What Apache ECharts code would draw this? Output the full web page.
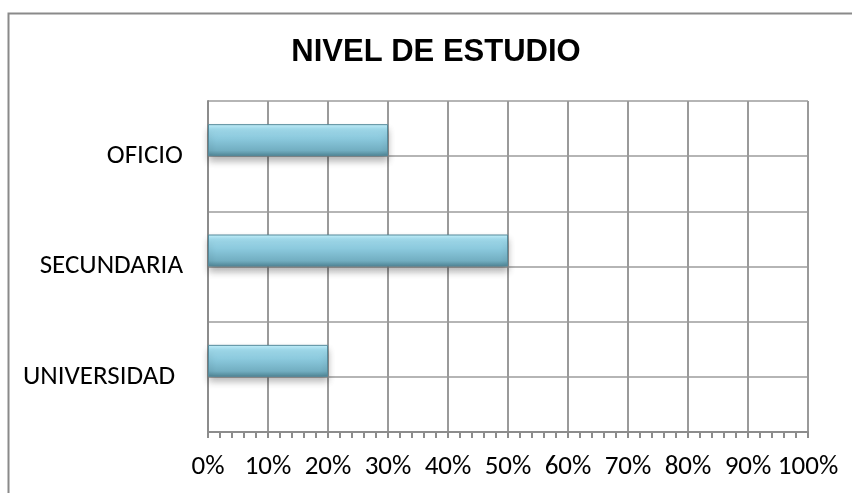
<!DOCTYPE html>
<html>
<head>
<meta charset="utf-8">
<script src="https://cdn.jsdelivr.net/npm/echarts@6/dist/echarts.min.js"></script>
<style>html,body{margin:0;padding:0;background:#fff}#c{width:852px;height:493px}</style>
</head>
<body>
<div id="c"></div>
<script>
const categories = ['UNIVERSIDAD', 'SECUNDARIA', 'OFICIO'];
const values = [20, 50, 30];
const tickLabels = ['0%', '10%', '20%', '30%', '40%', '50%', '60%', '70%', '80%', '90%', '100%'];
const titleText = 'NIVEL DE ESTUDIO';

const labelPad = [18, 10, 10];
const font = 'Carlito, Lato, "Liberation Sans", sans-serif';

const chart = echarts.init(document.getElementById('c'), null, {renderer: 'canvas'});
chart.setOption({
  animation: false,
  backgroundColor: '#fff',
  graphic: [{
    type: 'rect', left: 6, top: 11, shape: {width: 900, height: 600},
    style: {fill: 'none', stroke: '#8a8a8a', lineWidth: 2}, z: -1
  }],
  title: {
    text: titleText, left: 431, top: 32, textAlign: 'center',
    textStyle: {fontFamily: '"Liberation Sans", Arial, sans-serif', fontWeight: 'bold', fontSize: 31, color: '#000'}
  },
  grid: {left: 208, right: 44, top: 101, bottom: 61, containLabel: false},
  xAxis: {
    type: 'value', min: 0, max: 100, interval: 10,
    axisLine: {show: true, lineStyle: {color: '#8c8c8c', width: 2}},
    axisTick: {show: true, length: 6, inside: false, lineStyle: {color: '#8c8c8c', width: 2}},
    minorTick: {show: true, splitNumber: 5, length: 6, lineStyle: {color: '#8c8c8c', width: 2}},
    splitLine: {show: true, lineStyle: {color: '#9a9a9a', width: 2}},
    axisLabel: {
      margin: 22, fontFamily: font, fontSize: 27, color: '#000',
      formatter: v => tickLabels[Math.round(v / 10)]
    }
  },
  yAxis: [{
    type: 'category',
    data: categories.map((c, i) => ({value: c, textStyle: {padding: [0, labelPad[i], 0, 0]}})),
    axisLine: {show: true, lineStyle: {color: '#8c8c8c', width: 2}},
    axisTick: {show: false},
    splitLine: {show: false},
    axisLabel: {margin: 15, fontFamily: font, fontSize: 27, color: '#000'}
  }, {
    type: 'value', min: 0, max: 6, interval: 1, position: 'left',
    axisLine: {show: false}, axisTick: {show: false}, axisLabel: {show: false},
    splitLine: {show: true, lineStyle: {color: '#b5b5b5', width: 2}}
  }],
  series: [{
    type: 'bar', yAxisIndex: 0, data: values, barWidth: 32, barGap: '0%',
    itemStyle: {
      color: new echarts.graphic.LinearGradient(0, 0, 0, 1, [
        {offset: 0, color: '#c6f3fd'},
        {offset: 0.15, color: '#a3def0'},
        {offset: 0.5, color: '#87c5d9'},
        {offset: 0.82, color: '#72aec1'},
        {offset: 1, color: '#4f8595'}
      ]),
      borderColor: '#55899a', borderWidth: 1,
      shadowColor: 'rgba(0,0,0,0.3)', shadowBlur: 7, shadowOffsetY: 5
    },
    z: 3
  }, {
    type: 'bar', yAxisIndex: 0, data: [], barWidth: 32, barGap: '0%'
  }]
});
</script>
</body>
</html>
